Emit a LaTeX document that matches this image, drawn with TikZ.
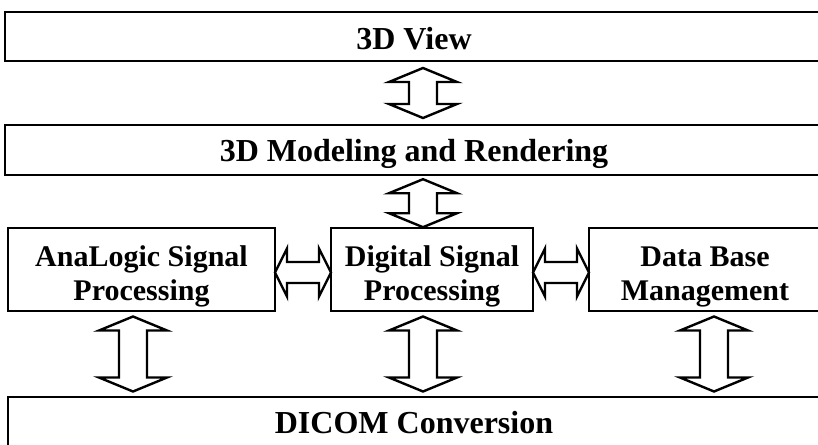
\documentclass[tikz,border=0pt]{standalone}
\usepackage{fontspec}
\setmainfont{Liberation Serif}
\usetikzlibrary{calc}
\tikzset{
  box/.style={draw, line width=1.6pt, inner sep=0pt, align=center, text depth=0pt,
    font=\bfseries\fontsize{32}{38}\selectfont},
  midbox/.style={box, minimum height=83pt, text height=61pt,
    font=\bfseries\fontsize{30}{34}\selectfont},
  arrline/.style={draw, line width=2.4pt, fill=white, line join=miter},
  pics/vdbl/.style={code={
    \draw[arrline] (0,#1) -- (34,#1-14) -- (14,#1-14) -- (14,-#1+14) -- (34,-#1+14)
      -- (0,-#1) -- (-34,-#1+14) -- (-14,-#1+14) -- (-14,#1-14) -- (-34,#1-14) -- cycle;}},
  pics/hdbl/.style={code={
    \draw[arrline] (#1,0) -- (#1-12,24) -- (#1-12,10.5) -- (-#1+12,10.5) -- (-#1+12,24)
      -- (-#1,0) -- (-#1+12,-24) -- (-#1+12,-10.5) -- (#1-12,-10.5) -- (#1-12,-24) -- cycle;}}
}
\begin{document}
\begin{tikzpicture}[x=1pt,y=1pt]
\clip (0,0) rectangle (818,-444);
\node[box, minimum width=818pt, minimum height=49pt, text height=25pt] (view) at (414,-36.5) {3D View};
\node[box, minimum width=818pt, minimum height=50pt] (model) at (414,-150) {3D Modeling and Rendering};
\node[midbox, minimum width=267pt] (asp) at (141.5,-269.5) {AnaLogic Signal\\Processing};
\node[midbox, minimum width=202pt] (dsp) at (432,-269.5) {Digital Signal\\Processing};
\node[midbox, minimum width=232pt] (dbm) at (705,-269.5) {Data Base\\Management};
\node[box, minimum width=812pt, minimum height=50pt] (dicom) at (414,-422) {DICOM Conversion};
\pic at ($(view.south)!0.5!(model.north)+(9,0)$) {vdbl=25};
\pic at ($(dsp.north)+(-9,24)$) {vdbl=24};
\pic at ($(asp.east)!0.5!(dsp.west)+(0,-3)$) {hdbl=28};
\pic at ($(dsp.east)!0.5!(dbm.west)+(0,-3)$) {hdbl=28};
\pic at ($(asp.south)!0.5!(dicom.north -| asp.south)+(-8.5,0)$) {vdbl=37.5};
\pic at ($(dsp.south)!0.5!(dicom.north -| dsp.south)+(-9,0)$) {vdbl=37.5};
\pic at ($(dbm.south)!0.5!(dicom.north -| dbm.south)+(9,0)$) {vdbl=37.5};
\end{tikzpicture}
\end{document}
